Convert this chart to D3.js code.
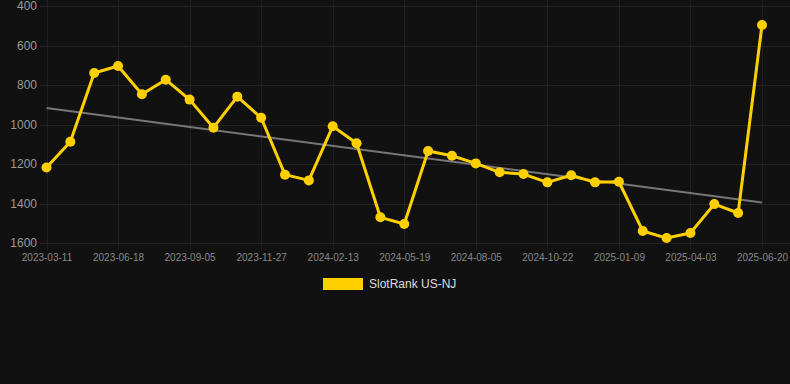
<!DOCTYPE html>
<html>
<head>
<meta charset="utf-8">
<script src="https://cdn.jsdelivr.net/npm/d3@7/dist/d3.min.js"></script>
<style>
  html, body { margin: 0; padding: 0; background: #111111; }
  svg { display: block; }
</style>
</head>
<body>
<script>
// Dates (every third one is labelled on the axis; in-between dates are estimates)
const dates = [
  "2023-03-11","2023-04-13","2023-05-16","2023-06-18","2023-07-14","2023-08-09",
  "2023-09-05","2023-10-03","2023-10-31","2023-11-27","2023-12-23","2024-01-18",
  "2024-02-13","2024-03-15","2024-04-17","2024-05-19","2024-06-14","2024-07-10",
  "2024-08-05","2024-08-31","2024-09-26","2024-10-22","2024-11-17","2024-12-13",
  "2025-01-09","2025-02-05","2025-03-05","2025-04-03","2025-04-30","2025-05-26",
  "2025-06-20"
];
const rankValues = [
  1218, 1087, 739, 704, 847, 773, 874, 1016, 859, 966, 1254, 1283,
  1009, 1095, 1470, 1504, 1134, 1158, 1197, 1242, 1251, 1293, 1257, 1293,
  1290, 1539, 1575, 1549, 1403, 1448, 496
];
const yTicks = [400, 600, 800, 1000, 1200, 1400, 1600];
const seriesName = "SlotRank US-NJ";

const W = 790, H = 384;
const svg = d3.select("body").append("svg").attr("width", W).attr("height", H)
  .style("font-family", "Arial, 'Liberation Sans', Helvetica, sans-serif");

svg.append("rect").attr("width", W).attr("height", H).attr("fill", "#111111");

const x = d3.scalePoint().domain(dates).range([46.5, 762]);
const y = d3.scaleLinear().domain([400, 1600]).range([6, 243]);

// horizontal grid
svg.append("g").selectAll("line").data(yTicks).join("line")
  .attr("x1", 40).attr("x2", W)
  .attr("y1", d => Math.round(y(d)) + 0.5).attr("y2", d => Math.round(y(d)) + 0.5)
  .attr("stroke", "#222222").attr("stroke-width", 1);

// vertical grid at labelled dates
const labelDates = dates.filter((d, i) => i % 3 === 0);
svg.append("g").selectAll("line").data(labelDates).join("line")
  .attr("x1", d => Math.round(x(d)) + 0.5).attr("x2", d => Math.round(x(d)) + 0.5)
  .attr("y1", 0).attr("y2", 250)
  .attr("stroke", "#1f1f1f").attr("stroke-width", 1);

// y axis labels
const yAxis = d3.axisLeft(y).tickValues(yTicks).tickFormat(d3.format("d")).tickSize(0).tickPadding(0);
const gy = svg.append("g").attr("transform", "translate(37,0)").call(yAxis);
gy.select(".domain").remove();
gy.selectAll("text").attr("fill", "#9a9a9a").style("font-size", "12px")
  .style("font-family", "Arial, 'Liberation Sans', sans-serif");

// x axis labels
const xAxis = d3.axisBottom(x).tickValues(labelDates).tickSize(0).tickPadding(0);
const gx = svg.append("g").attr("transform", "translate(0,254)").call(xAxis);
gx.select(".domain").remove();
gx.selectAll("text").attr("fill", "#888888").style("font-size", "10px")
  .style("font-family", "Arial, 'Liberation Sans', sans-serif");

// trend line (least squares fit over index)
const n = rankValues.length;
const xs = d3.range(n);
const mx = d3.mean(xs), my = d3.mean(rankValues);
const slope = d3.sum(xs, i => (i - mx) * (rankValues[i] - my)) / d3.sum(xs, i => (i - mx) ** 2);
const intercept = my - slope * mx;
svg.append("line")
  .attr("x1", x(dates[0])).attr("y1", y(intercept))
  .attr("x2", x(dates[n - 1])).attr("y2", y(intercept + slope * (n - 1)))
  .attr("stroke", "#777777").attr("stroke-width", 2);

// series line
const line = d3.line().x((d, i) => x(dates[i])).y(d => y(d));
svg.append("path").datum(rankValues)
  .attr("d", line).attr("fill", "none")
  .attr("stroke", "#FFD000").attr("stroke-width", 3).attr("stroke-linejoin", "round");

svg.append("g").selectAll("circle").data(rankValues).join("circle")
  .attr("cx", (d, i) => x(dates[i])).attr("cy", d => y(d)).attr("r", 5)
  .attr("fill", "#FFD000");

// legend
const lg = svg.append("g");
lg.append("rect").attr("x", 323).attr("y", 278).attr("width", 40).attr("height", 12)
  .attr("fill", "#FFD000");
lg.append("text").attr("x", 369).attr("y", 284).attr("dy", "0.35em")
  .attr("fill", "#dddddd").style("font-size", "12px").text(seriesName);
</script>
</body>
</html>
